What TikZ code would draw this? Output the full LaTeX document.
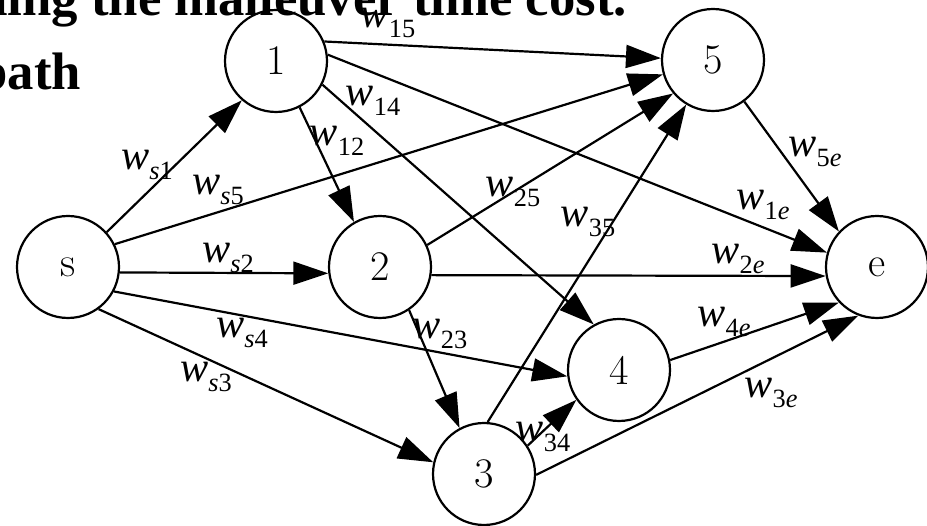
\documentclass[tikz,border=0pt]{standalone}
\usepackage{fontspec}
\newfontfamily\timesfont{Liberation Serif}
\usetikzlibrary{arrows.meta}
\newcommand{\wl}[1]{\textit{w}\raisebox{-6pt}{\fontsize{15}{15}\selectfont #1}}

\begin{document}
\begin{tikzpicture}[
    x=0.02cm, y=-0.02cm,
    >={Triangle[length=0.7cm, width=0.46cm]},
    state/.style={circle, draw, line width=1.25pt, minimum size=2.04cm, inner sep=0pt, font=\fontsize{24}{24}\selectfont},
    wlab/.style={inner sep=0pt, font=\timesfont\fontsize{24}{24}\selectfont},
    link/.style={->, line width=1.25pt},
]
\useasboundingbox (0,0) rectangle (927,526);
\clip (0,0) rectangle (927,526);
% heading text left over from the slide
\node[anchor=base west, inner sep=0pt, font=\timesfont\bfseries\fontsize{30}{30}\selectfont] (head1) at (-22,16) {ding the maneuver time cost.};
\node[anchor=base west, inner sep=0pt, font=\timesfont\bfseries\fontsize{30}{30}\selectfont] (head2) at (-22,90) {path};
% vertices: start s, end e
\node[state] (s)  at (68,267)  {s};
\node[state] (v1) at (276,61)  {1};
\node[state] (v2) at (380,267) {2};
\node[state] (v3) at (484,474) {3};
\node[state] (v4) at (619,370) {4};
\node[state] (v5) at (713,60)  {5};
\node[state] (e)  at (877,267) {e};
% arcs out of s
\draw[link] (s.42)  -- (v1.229);
\draw[link] (s.26)  -- (v5.196);
\draw[link] (s.354) -- (v2.187);
\draw[link] (s.332) -- (v4.187);
\draw[link] (s.306) -- (v3.167);
% arcs out of 1
\draw[link] (v1.22)  -- (v5.178);
\draw[link] (v1.297) -- (v2.120);
\draw[link] (v1.333) -- (v4.119);
\draw[link] (v1.7)   -- (e.164);
% arcs out of 2
\draw[link] (v2.25)  -- (v5.220);
\draw[link] (v2.351) -- (e.190);
\draw[link] (v2.304) -- (v3.118);
% arcs out of 3
\draw[link] (v3.86)  -- (v5.239);
\draw[link] (v3.33)  -- (v4.215);
\draw[link] (v3.359) -- (e.249);
% arcs into e
\draw[link] (v4.11)  -- (e.223);
\draw[link] (v5.307) -- (e.137);
% weights
\node[wlab] (ls1) at (147,165) {\wl{\textit{s}1}};
\node[wlab] (ls5) at (218,190) {\wl{\textit{s}5}};
\node[wlab] (ls2) at (228,258) {\wl{\textit{s}2}};
\node[wlab] (ls4) at (242,333) {\wl{\textit{s}4}};
\node[wlab] (ls3) at (206,377) {\wl{\textit{s}3}};
\node[wlab] (l15) at (388,23)  {\wl{15}};
\node[wlab] (l14) at (373,101) {\wl{14}};
\node[wlab] (l12) at (337,141) {\wl{12}};
\node[wlab] (l23) at (440,334) {\wl{23}};
\node[wlab] (l25) at (513,192) {\wl{25}};
\node[wlab] (l35) at (588,222) {\wl{35}};
\node[wlab] (l34) at (543,437) {\wl{34}};
\node[wlab] (l5e) at (815,152) {\wl{5\textit{e}}};
\node[wlab] (l1e) at (763,205) {\wl{1\textit{e}}};
\node[wlab] (l2e) at (738,259) {\wl{2\textit{e}}};
\node[wlab] (l4e) at (724,322) {\wl{4\textit{e}}};
\node[wlab] (l3e) at (771,393) {\wl{3\textit{e}}};
\end{tikzpicture}
\end{document}
